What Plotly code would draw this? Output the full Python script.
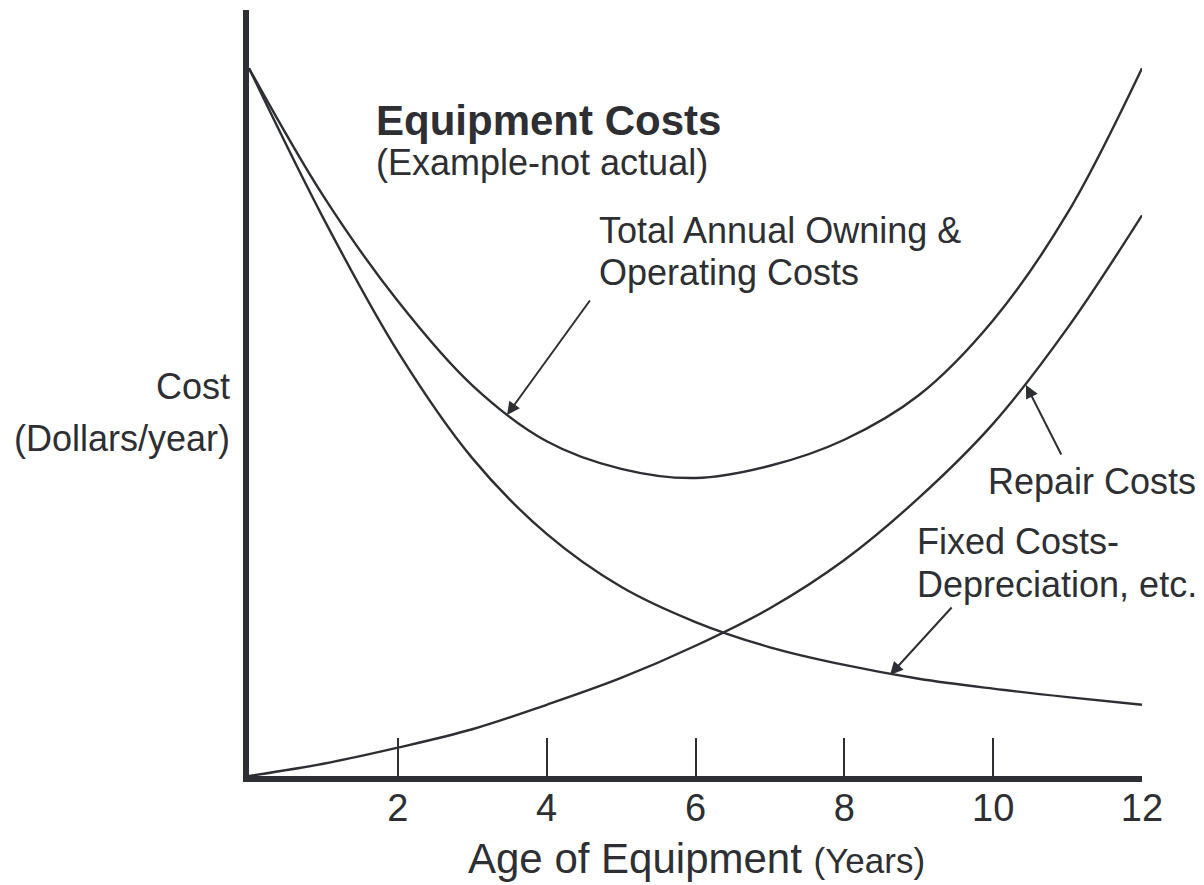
import plotly.graph_objects as go

# ---- data (cost in arbitrary units 0-100) ----
years = [0, 1, 2, 3, 4, 5, 6, 7, 8, 9, 10, 11, 12]
total_cost = [92.4, 75.7, 62.0, 51.0, 43.7, 40.1, 38.9, 40.5, 43.9, 49.7, 59.5, 73.5, 92.4]
fixed_cost = [92.4, 72.8, 55.4, 41.5, 31.6, 24.7, 20.1, 16.8, 14.5, 12.7, 11.4, 10.3, 9.3]
repair_cost = [0.0, 1.6, 3.7, 6.1, 9.3, 12.8, 17.0, 21.9, 28.2, 36.3, 46.0, 58.5, 73.2]
tick_vals = [2, 4, 6, 8, 10, 12]
tick_text = ["2", "4", "6", "8", "10", "12"]

INK = "#2e2f33"
FONT = "Liberation Sans, Arial, Helvetica, sans-serif"

W, H = 1204, 885
ML, MR, MT, MB = 249, W - 1142, 10, H - 776
PW, PH = W - ML - MR, H - MT - MB


def px(x):
    return (x - ML) / PW


def py(y):
    return (H - MB - y) / PH


fig = go.Figure()
for name, vals in [("Total Annual Owning & Operating Costs", total_cost),
                   ("Fixed Costs-Depreciation, etc.", fixed_cost),
                   ("Repair Costs", repair_cost)]:
    fig.add_trace(go.Scatter(x=years, y=vals, mode="lines", name=name,
                             line=dict(color=INK, width=2.4, shape="spline", smoothing=1.0),
                             hoverinfo="x+y+name"))

ann = []


def text(t, x, y, size, anchor="left", bold=False):
    ann.append(dict(text=("<b>%s</b>" % t) if bold else t, x=px(x), y=py(y), xref="paper", yref="paper",
                    xanchor=anchor, yanchor="middle", showarrow=False,
                    font=dict(family=FONT, size=size, color=INK)))


def arrow(tail, tip):
    ann.append(dict(text="", x=px(tip[0]), y=py(tip[1]), xref="paper", yref="paper",
                    ax=tail[0] - tip[0], ay=tail[1] - tip[1], showarrow=True,
                    arrowhead=2, arrowsize=1.3, arrowwidth=2, arrowcolor=INK))


text("Equipment Costs", 374, 120, 42, bold=True)
text("(Example-not actual)", 374, 162, 36)
text("Total Annual Owning &", 597, 230, 36)
text("Operating Costs", 597, 272, 36)
text("Cost", 232, 387, 36, anchor="right")
text("(Dollars/year)", 232, 438, 36, anchor="right")
text("Repair Costs", 986, 481, 36)
text("Fixed Costs-", 915, 541, 36)
text("Depreciation, etc.", 915, 584, 36)
text("Age of Equipment <span style='font-size:35px'>(Years)</span>", 466, 858, 42)

arrow((591, 299), (507, 415))
arrow((1062, 456), (1026, 385))
arrow((953, 606), (890, 675))

fig.update_layout(
    width=W, height=H,
    margin=dict(l=ML, r=MR, t=MT, b=MB, pad=0),
    paper_bgcolor="white", plot_bgcolor="white",
    showlegend=False,
    annotations=ann,
    xaxis=dict(range=[0, 12], tickvals=tick_vals, ticktext=tick_text,
               ticks="inside", ticklen=38, tickwidth=2, tickcolor=INK,
               ticklabelstandoff=-7,
               showline=True, linewidth=6, linecolor=INK,
               showgrid=False, zeroline=False,
               tickfont=dict(family=FONT, size=38, color=INK)),
    yaxis=dict(range=[0, 100], showticklabels=False, ticks="",
               showline=True, linewidth=6, linecolor=INK,
               showgrid=False, zeroline=False),
)

fig.write_html("out.html", config={"displayModeBar": False},
               post_script="document.body.style.margin='0px';")
